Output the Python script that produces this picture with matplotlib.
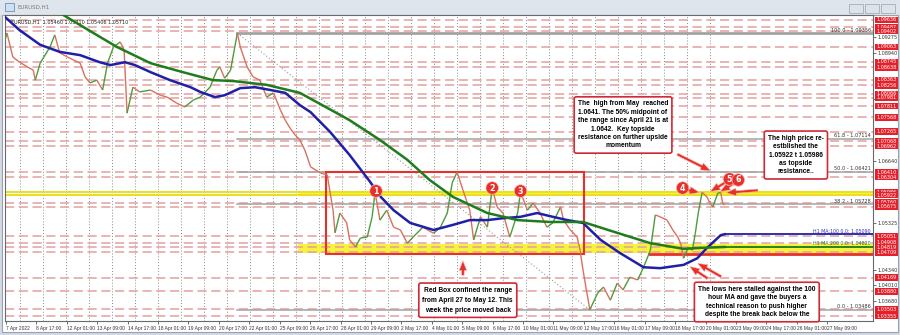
import numpy as np
import matplotlib.pyplot as plt
from matplotlib.patches import Rectangle
from matplotlib.collections import LineCollection
from matplotlib.transforms import blended_transform_factory

# EURUSD H1 price path (bar index, price)
price_bar = [0, 2, 8, 15, 23, 29, 31, 36, 46, 51,
             56, 64, 70, 77, 82, 87, 94, 100, 105, 111,
             118, 122, 125, 131, 138, 149, 159, 166, 176, 184,
             193, 200, 210, 217, 220, 225, 231, 238, 241, 248,
             254, 261, 268, 275, 282, 287, 292, 297, 302, 307,
             313, 323, 330, 333, 336, 338, 343, 350, 353, 359,
             364, 371, 376, 379, 384, 391, 398, 405, 412, 418,
             428, 439, 446, 453, 458, 463, 469, 476, 480, 487,
             494, 499, 504, 510, 517, 525, 528, 535, 541, 548,
             555, 561, 569, 572, 579, 586, 589, 592, 596, 599,
             607, 613, 620, 627, 633, 640, 648, 654, 661, 666,
             671, 678, 684, 689, 692, 695, 700, 704, 707, 710,
             714, 719, 722, 725, 730, 733, 735, 737]
price = [1.0921, 1.0936, 1.0885, 1.0874, 1.0864, 1.0857, 1.0836, 1.0872, 1.0906, 1.0932,
         1.0894, 1.0885, 1.0879, 1.0872, 1.0843, 1.0830, 1.0836, 1.0815, 1.0872, 1.0906,
         1.0917, 1.0900, 1.0766, 1.0821, 1.0811, 1.0815, 1.0804, 1.0800, 1.0787, 1.0779,
         1.0794, 1.0800, 1.0821, 1.0857, 1.0864, 1.0840, 1.0857, 1.0936, 1.0906, 1.0864,
         1.0843, 1.0836, 1.0800, 1.0809, 1.0773, 1.0751, 1.0734, 1.0720, 1.0709, 1.0688,
         1.0652, 1.0639, 1.0635, 1.0597, 1.0560, 1.0512, 1.0554, 1.0533, 1.0497, 1.0482,
         1.0501, 1.0503, 1.0546, 1.0598, 1.0539, 1.0560, 1.0524, 1.0518, 1.0490, 1.0503,
         1.0524, 1.0511, 1.0524, 1.0554, 1.0618, 1.0641, 1.0603, 1.0560, 1.0497, 1.0546,
         1.0524, 1.0607, 1.0567, 1.0554, 1.0503, 1.0554, 1.0599, 1.0560, 1.0575, 1.0554,
         1.0524, 1.0533, 1.0567, 1.0539, 1.0518, 1.0503, 1.0475, 1.0433, 1.0384, 1.0349,
         1.0384, 1.0397, 1.0369, 1.0405, 1.0391, 1.0418, 1.0412, 1.0439, 1.0475, 1.0550,
         1.0546, 1.0539, 1.0518, 1.0503, 1.0490, 1.0458, 1.0482, 1.0475, 1.0511, 1.0554,
         1.0598, 1.0588, 1.0575, 1.0567, 1.0596, 1.0598, 1.0575, 1.0571]

# 100 hour MA (blue) and 200 hour MA (green)
ma100_bar = [0, 15, 36, 56, 77, 97, 108, 123, 133, 149,
             169, 190, 200, 215, 225, 241, 256, 272, 287, 302,
             313, 333, 353, 374, 384, 398, 415, 439, 459, 476,
             494, 510, 528, 545, 561, 576, 592, 610, 630, 654,
             671, 695, 709, 719, 733, 737]
ma100 = [1.0970, 1.0942, 1.0911, 1.0896, 1.0889, 1.0874, 1.0868, 1.0874, 1.0868, 1.0853,
         1.0836, 1.0821, 1.0811, 1.0800, 1.0804, 1.0819, 1.0821, 1.0815, 1.0809, 1.0783,
         1.0768, 1.0726, 1.0677, 1.0620, 1.0590, 1.0560, 1.0533, 1.0518, 1.0529, 1.0539,
         1.0539, 1.0543, 1.0546, 1.0554, 1.0546, 1.0539, 1.0533, 1.0497, 1.0469, 1.0439,
         1.0437, 1.0444, 1.0458, 1.0480, 1.0507, 1.0509]
ma200_bar = [55, 97, 115, 149, 182, 213, 234, 268, 302, 353, 384, 412,
             435, 459, 494, 525, 558, 592, 627, 661, 695, 712, 737]
ma200 = [1.0980, 1.0928, 1.0906, 1.0872, 1.0853, 1.0836, 1.0834, 1.0826, 1.0809, 1.0751, 1.0709, 1.0667,
         1.0624, 1.0588, 1.0554, 1.0539, 1.0535, 1.0535, 1.0512, 1.0490, 1.0478, 1.0480, 1.0482]

# horizontal support / resistance levels (red dashed)
levels = [1.09636, 1.09487, 1.09402, 1.09063, 1.08745, 1.08638, 1.08363, 1.08256,
          1.08066, 1.07981, 1.07811, 1.07568, 1.07265, 1.07068, 1.06962, 1.06410,
          1.06304, 1.05986, 1.05922, 1.05760, 1.05675, 1.05051, 1.04908, 1.04819,
          1.04709, 1.04169, 1.03880, 1.03503, 1.03355]
yellow_levels = [1.05986, 1.05922]
zone_upper = [1.05922, 1.05986]
zone_lower = [1.04690, 1.04880]

# price scale labels that stay visible between the red tags
yticks = [1.03680, 1.04010, 1.04340, 1.05325, 1.06640, 1.07960, 1.08940, 1.09275]

# fibonacci retracement from the Apr 21 high to the May 13 low
fib_pct = ['100.0', '61.8', '50.0', '38.2', '0.0']
fib_val = [1.09356, 1.07114, 1.06421, 1.05728, 1.03486]
fib_high_bar, fib_low_bar = 238, 599

box_bars = [329, 593]
box_prices = [1.0468, 1.0641]

xlabels = ['7 Apr 2022', '8 Apr 17:00', '12 Apr 01:00', '13 Apr 09:00', '14 Apr 17:00',
           '18 Apr 01:00', '19 Apr 09:00', '20 Apr 17:00', '22 Apr 01:00', '25 Apr 09:00',
           '26 Apr 17:00', '28 Apr 01:00', '29 Apr 09:00', '2 May 17:00', '4 May 01:00',
           '5 May 09:00', '6 May 17:00', '10 May 01:00', '11 May 09:00', '12 May 17:00',
           '16 May 01:00', '17 May 09:00', '18 May 17:00', '20 May 01:00', '23 May 09:00',
           '24 May 17:00', '26 May 01:00', '27 May 09:00']
info = 'EURUSD,H1  1.05460 1.05710 1.05406 1.05710'

RED = '#e8302a'
W, H = 900, 335
fig = plt.figure(figsize=(W / 100, H / 100), dpi=100)
fig.patch.set_facecolor('#d3dae3')


def fig_rect(x0, y0, x1, y1, **kw):
    r = Rectangle((x0 / W, 1 - y1 / H), (x1 - x0) / W, (y1 - y0) / H,
                  transform=fig.transFigure, **kw)
    fig.add_artist(r)
    return r


# window chrome
fig_rect(0, 0, 900, 15, fc='#dfe5ec', ec='none', zorder=-6)
fig_rect(2, 15, 898, 332, fc='white', ec='#98a2ad', lw=0.8, zorder=-5)
fig_rect(5, 3, 14, 11, fc='#cfe0f2', ec='#6d8fb5', lw=0.6, zorder=5)
fig.text(18 / W, 1 - 7 / H, 'EURUSD,H1', fontsize=4, color='#777777', va='center')
for bx in [849, 865, 881]:
    fig_rect(bx, 4, bx + 14, 13, fc='#dde3ea', ec='#a6aeb8', lw=0.6, zorder=5)

ax = fig.add_axes([5 / W, 1 - 321 / H, 868 / W, 306 / H])
ax.set_facecolor('white')
ax.set_xlim(0, 889)
ax.set_ylim(1.03249, 1.09742)

# daily vertical grid
for gx in np.arange(15.4, 740, 23.57):
    ax.axvline(gx, color='#8a8a8a', lw=0.7, ls=(0, (1, 2)), zorder=1)

# yellow zones
ax.fill_between([300, 889], zone_upper[0], zone_upper[1], color='#f7f23a', zorder=1.5, lw=0)
ax.fill_between([300, 889], zone_lower[0], zone_lower[1], color='#f7f23a', zorder=1.5, lw=0)

# level lines
for lv in levels:
    if lv in yellow_levels:
        ax.axhline(lv, color='#e8e020', lw=1.4, zorder=2)
    else:
        ax.axhline(lv, color='#e3a0a0', lw=1.1, dashes=(6, 3), zorder=2)

# fibonacci
for pct, fv in zip(fib_pct, fib_val):
    ax.plot([fib_high_bar, 889], [fv, fv], color='#a3a3a3', lw=2 if pct == '100.0' else 1.1, zorder=2.2)
    ax.text(887, fv + 0.00012, f'{pct} - {fv:.5f}', fontsize=3.6, color='#333333',
            ha='right', va='bottom', zorder=2.3)
ax.plot([fib_high_bar, fib_low_bar], [fib_val[0], fib_val[-1]], color='#9a9a9a',
        lw=0.8, ls=(0, (1, 2)), zorder=2.2)

# red range box and the thick red line
ax.add_patch(Rectangle((box_bars[0], box_prices[0]), box_bars[1] - box_bars[0],
                       box_prices[1] - box_prices[0], fill=False, ec=RED, lw=1.5, zorder=3))
ax.plot([660, 889], [box_prices[0] - 0.0001] * 2, color=RED, lw=2, zorder=3)

# price, coloured by direction like candles
pts = np.column_stack([price_bar, price])
segs = np.stack([pts[:-1], pts[1:]], axis=1)
cols = ['#4d9b3d' if b > a else '#d9705e' for a, b in zip(price[:-1], price[1:])]
ax.add_collection(LineCollection(segs, colors=cols, linewidths=1.0, zorder=4))

# moving averages
ax.plot(ma100_bar, ma100, color='#1f1fa8', lw=1.8, zorder=5)
ax.plot(ma200_bar, ma200, color='#1d7d1d', lw=1.8, zorder=5)
ax.plot([ma100_bar[-1], 889], [ma100[-1]] * 2, color='#1f1fa8', lw=1.3, zorder=5)
ax.plot([ma200_bar[-1], 889], [ma200[-1]] * 2, color='#1d7d1d', lw=1.3, zorder=5)
ax.text(887, ma100[-1] + 0.0001, f'H1 MA:100 0.0: {ma100[-1]:.5f}', fontsize=3.4,
        color='#3030c0', ha='right', va='bottom', zorder=5)
ax.text(887, ma200[-1] + 0.0001, f'H1 MA:200 0.0: {ma200[-1]:.5f}', fontsize=3.4,
        color='#1d7d1d', ha='right', va='bottom', zorder=5)

# axes styling
ax.yaxis.tick_right()
ax.set_yticks(yticks)
ax.set_yticklabels([f'{v:.5f}' for v in yticks])
ax.set_xticks(1 + 31.15 * np.arange(len(xlabels)))
ax.set_xticklabels(xlabels, ha='left', family='Liberation Sans')
ax.tick_params(axis='both', labelsize=3.5, length=2, pad=1.5, colors='#333333', width=0.5)
for sp in ax.spines.values():
    sp.set_color('#6a6a6a')
    sp.set_linewidth(0.8)

# red price tags on the axis
tr = blended_transform_factory(ax.transAxes, ax.transData)
for lv in levels:
    ax.text(1.004, lv, f'{lv:.5f}', transform=tr, fontsize=3.5, color='white',
            ha='left', va='center', clip_on=False, zorder=6,
            bbox=dict(boxstyle='square,pad=0.2', fc='#e5202a', ec='none'))

ax.text(0.007, 0.985, info, transform=ax.transAxes, fontsize=3.5, va='top', color='#222222')

# annotations
txt_kw = dict(fontsize=4.8, fontweight='bold', family='Liberation Sans', ha='center',
              va='center', linespacing=1.28, zorder=10, clip_on=False,
              bbox=dict(boxstyle='round,pad=0.55,rounding_size=0.3', fc='white', ec='#d02a35', lw=1.2))
arrow_kw = dict(arrowstyle='simple,head_width=0.55,head_length=0.7,tail_width=0.18',
                fc=RED, ec='#f6b5ad', lw=0.4)


def arrow(start, end):
    ax.annotate('', xy=end, xytext=start, arrowprops=arrow_kw, zorder=9,
                annotation_clip=False)


arrow((686, 1.06814), (725, 1.06410))
ax.text(633, 1.07408, 'The  high from May  reached\n1.0641. The 50% midpoint of\n'
        'the range since April 21 is at\n1.0642.  Key topside\n'
        'resistance on further upside\nmomentum', **txt_kw)

arrow((774, 1.06028), (736, 1.05965))
ax.text(810, 1.06771, 'The high price re-\nestblished the\n1.05922 t 1.05986\n'
        'as topside\nresistance..', **txt_kw)

arrow((469, 1.04161), (469, 1.04585))
ax.text(474, 1.03690, 'Red Box confined the range\nfrom April 27 to May 12. This\n'
        'week the price moved back', **dict(txt_kw, linespacing=1.6))

arrow((722, 1.04119), (699, 1.04437))
arrow((736, 1.04161), (707, 1.04501))
ax.text(770, 1.03652, 'The lows here stalled against the 100\nhour MA and gave the buyers a\n'
        'technical reason to push higher\ndespite the break back below the', **txt_kw)

circ_kw = dict(fontsize=5.8, fontweight='bold', color='white', ha='center', va='center', zorder=11,
               bbox=dict(boxstyle='circle,pad=0.22', fc=RED, ec='#f7b9b0', lw=0.5))
for num, cx, cy in [('1', 380, 1.06007), ('2', 499, 1.06071), ('3', 528, 1.06007)]:
    ax.text(cx, cy, num, **circ_kw)
for num, cx, cy, tx in [('4', 694, 1.06071, 714), ('5', 742, 1.06262, 720), ('6', 751, 1.06241, 730)]:
    arrow((cx, cy - 0.0002), (tx, 1.05965))
    ax.text(cx, cy, num, **circ_kw)

fig.savefig('out.png', dpi=100, facecolor=fig.get_facecolor())
